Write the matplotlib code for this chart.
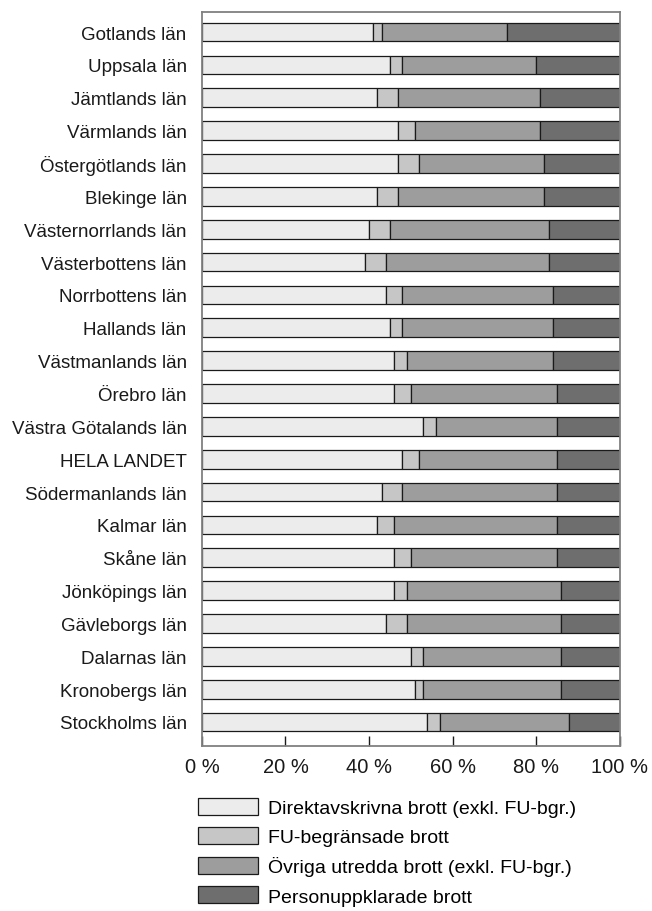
import matplotlib.pyplot as plt
import numpy as np

plt.rcParams["font.family"] = ["Liberation Sans", "DejaVu Sans"]

regions = [
    "Gotlands län", "Uppsala län", "Jämtlands län", "Värmlands län",
    "Östergötlands län", "Blekinge län", "Västernorrlands län",
    "Västerbottens län", "Norrbottens län", "Hallands län",
    "Västmanlands län", "Örebro län", "Västra Götalands län",
    "HELA LANDET", "Södermanlands län", "Kalmar län", "Skåne län",
    "Jönköpings län", "Gävleborgs län", "Dalarnas län",
    "Kronobergs län", "Stockholms län",
]

direkt = [41, 45, 42, 47, 47, 42, 40, 39, 44, 45, 46, 46, 53, 48, 43, 42, 46, 46, 44, 50, 51, 54]
fu_begr = [2, 3, 5, 4, 5, 5, 5, 5, 4, 3, 3, 4, 3, 4, 5, 4, 4, 3, 5, 3, 2, 3]
ovriga = [30, 32, 34, 30, 30, 35, 38, 39, 36, 36, 35, 35, 29, 33, 37, 39, 35, 37, 37, 33, 33, 31]
person = [27, 20, 19, 19, 18, 18, 17, 17, 16, 16, 16, 15, 15, 15, 15, 15, 15, 14, 14, 14, 14, 12]

series_labels = [
    "Direktavskrivna brott (exkl. FU-bgr.)",
    "FU-begränsade brott",
    "Övriga utredda brott (exkl. FU-bgr.)",
    "Personuppklarade brott",
]
colors = ["#ececec", "#c6c6c6", "#9d9d9d", "#6e6e6e"]

fig = plt.figure(figsize=(6.52, 9.12), dpi=100)
ax = fig.add_axes([0.3098, 0.1813, 0.6404, 0.8041])

y = np.arange(len(regions))
left = np.zeros(len(regions))
handles = []
for vals, lab, col in zip([direkt, fu_begr, ovriga, person], series_labels, colors):
    vals = np.array(vals, dtype=float)
    h = ax.barh(y, vals, left=left, height=0.57, color=col,
                edgecolor="#1a1a1a", linewidth=0.9, label=lab)
    handles.append(h)
    left += vals

ax.set_xlim(0, 100)
ax.set_ylim(len(regions) - 1 + 0.72, -0.6)
ax.set_yticks(y)
ax.set_yticklabels(regions, fontsize=13.5, color="#1a1a1a")
ax.tick_params(axis="y", length=0, pad=11)

ax.set_xticks(np.arange(0, 101, 20))
ax.set_xticklabels([f"{v} %" for v in range(0, 101, 20)], fontsize=14.5, color="#1a1a1a")
ax.tick_params(axis="x", direction="in", length=7, width=1, color="#1a1a1a", pad=8)

for s in ax.spines.values():
    s.set_color("#808080")
    s.set_linewidth(1.3)

fig.legend(handles=handles, loc="upper left",
           bbox_to_anchor=(198 / 652, 1 - 799 / 912),
           frameon=False, fontsize=14, handlelength=3.1, handleheight=0.95,
           handletextpad=0.5, labelspacing=0.52, borderpad=0, borderaxespad=0)

fig.savefig("out.png", dpi=100)
